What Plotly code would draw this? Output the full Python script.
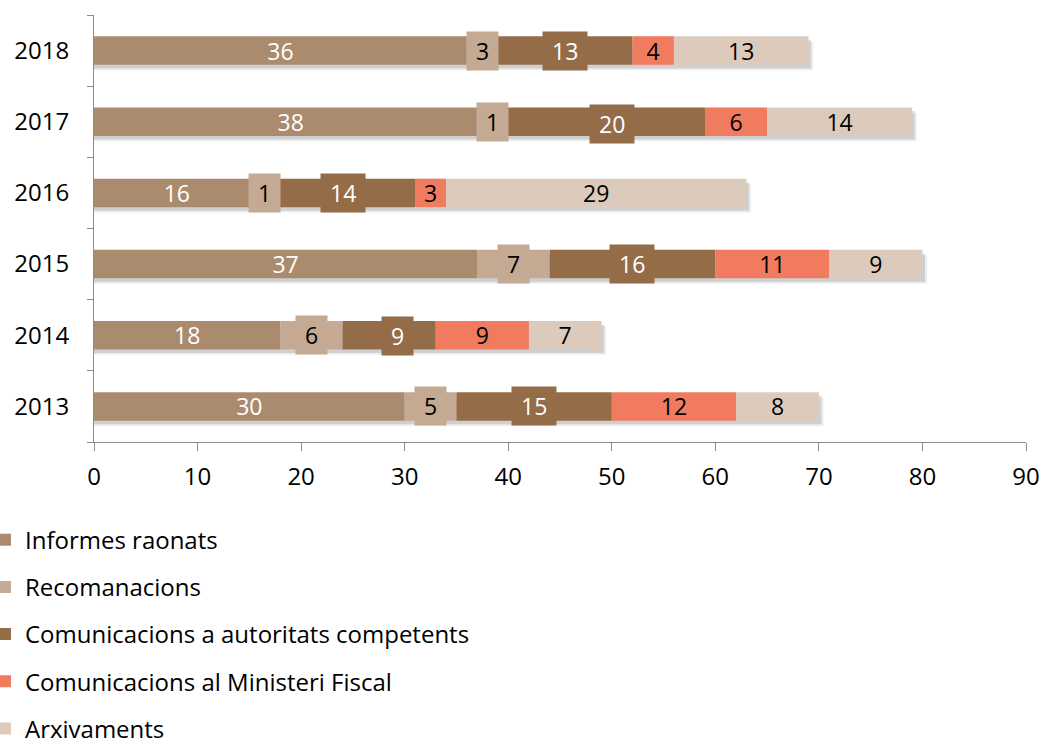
import plotly.graph_objects as go

# values
years = ["2013", "2014", "2015", "2016", "2017", "2018"]
series_names = [
    "Informes raonats",
    "Recomanacions",
    "Comunicacions a autoritats competents",
    "Comunicacions al Ministeri Fiscal",
    "Arxivaments",
]
informes = [30, 18, 37, 16, 38, 36]
recomanacions = [5, 6, 7, 1, 1, 3]
autoritats = [15, 9, 16, 14, 20, 13]
ministeri = [12, 9, 11, 3, 6, 4]
arxivaments = [8, 7, 9, 29, 14, 13]

x_ticks = [0, 10, 20, 30, 40, 50, 60, 70, 80, 90]

COLORS = ["#AB8B6E", "#C4A993", "#946D48", "#F07B5F", "#DCCBBC"]
TEXT_COLORS = ["white", "black", "white", "black", "black"]
BOXED = [False, True, True, False, False]  # labels drawn in a padded box
# a couple of boxed labels sit slightly off-centre in the original (px)
LABEL_NUDGE = {("2017", 2): (11, -2), ("2014", 2): (8, -1)}
FONT = "'Open Sans', sans-serif"
AXIS_GREY = "#8C8C8C"
BAR_WIDTH = 0.4

values = [informes, recomanacions, autoritats, ministeri, arxivaments]
totals = [sum(col) for col in zip(*values)]

fig = go.Figure()

# soft drop shadow under each full bar (drawn first so it sits beneath)
for alpha, dx, dy in [(0.07, 0.45, 0.075), (0.12, 0.25, 0.05)]:
    fig.add_trace(
        go.Bar(
            y=years,
            x=[t + dx for t in totals],
            orientation="h",
            width=BAR_WIDTH,
            offset=-BAR_WIDTH / 2 - dy,
            marker={"color": f"rgba(0,0,0,{alpha})", "line": {"width": 0}},
            showlegend=False,
            hoverinfo="skip",
        )
    )

annotations = []
base = [0] * len(years)
for i, (name, vals) in enumerate(zip(series_names, values)):
    fig.add_trace(
        go.Bar(
            y=years,
            x=vals,
            base=base,
            orientation="h",
            width=BAR_WIDTH,
            name=name,
            legendgroup=name,
            marker={"color": COLORS[i], "line": {"width": 0}},
            text=None if BOXED[i] else [str(v) for v in vals],
            textposition="inside",
            insidetextanchor="middle",
            textangle=0,
            constraintext="none",
            textfont={"color": TEXT_COLORS[i], "size": 23, "family": FONT},
        )
    )
    if BOXED[i]:
        # category index is used for y so the numeric-looking years stay categories
        for j, (y, b, v) in enumerate(zip(years, base, vals)):
            dx, dy = LABEL_NUDGE.get((y, i), (0, 0))
            annotations.append(
                dict(
                    x=b + v / 2,
                    y=j,
                    xref="x",
                    yref="y",
                    xshift=dx,
                    yshift=dy,
                    text=f"\u00a0{v}\u00a0",
                    showarrow=False,
                    bgcolor=COLORS[i],
                    borderpad=3,
                    font={"color": TEXT_COLORS[i], "size": 23, "family": FONT},
                )
            )
    base = [b + v for b, v in zip(base, vals)]

fig.update_layout(
    barmode="overlay",
    width=1046,
    height=740,
    paper_bgcolor="white",
    plot_bgcolor="white",
    margin={"l": 94, "r": 20, "t": 15, "b": 298, "autoexpand": False},
    font={"family": FONT, "size": 24, "color": "black"},
    annotations=annotations,
    showlegend=True,
    legend={
        "orientation": "v",
        "x": -0.1009,
        "xanchor": "left",
        "y": -0.177,
        "yanchor": "top",
        "indentation": -15,
        "tracegroupgap": 13,
        "traceorder": "grouped",
        "font": {"size": 24, "family": FONT},
    },
)
fig.update_xaxes(
    range=[0, 90],
    tickvals=x_ticks,
    ticks="outside",
    ticklen=8,
    tickcolor=AXIS_GREY,
    showline=True,
    linecolor=AXIS_GREY,
    linewidth=1,
    showgrid=False,
    zeroline=False,
    ticklabelstandoff=5,
    tickfont={"size": 24},
)
fig.update_yaxes(
    type="category",
    categoryorder="array",
    categoryarray=years,
    range=[-0.5, len(years) - 0.5],
    ticks="outside",
    ticklen=6,
    tickson="boundaries",
    tickcolor=AXIS_GREY,
    showline=True,
    linecolor=AXIS_GREY,
    linewidth=1,
    showgrid=False,
    automargin=False,
    ticklabelstandoff=19,
    tickfont={"size": 24},
)

fig.write_html(
    "out.html",
    config={"displayModeBar": False},
    post_script="document.body.style.margin='0';",
)
